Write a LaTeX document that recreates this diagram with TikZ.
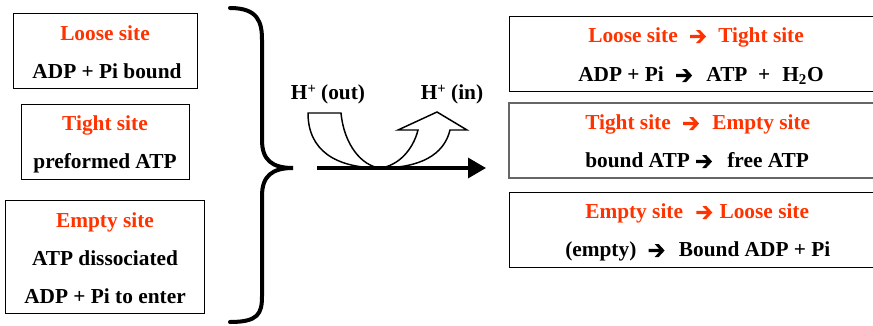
\documentclass[tikz,border=0pt]{standalone}
\usepackage{fontspec}
\setmainfont{Liberation Serif}
\usetikzlibrary{arrows.meta,calc}
\definecolor{sitered}{RGB}{255,51,0}
\newcommand\hplus{H\raisebox{4.5pt}{\fontsize{11}{11}\selectfont +}}
\begin{document}
\begin{tikzpicture}[x=0.75pt,y=-0.75pt,
  box/.style={draw=black,line width=0.75pt,fill=white,inner sep=0pt},
  txt/.style={anchor=base,inner sep=0pt,font=\fontsize{16}{19}\selectfont\bfseries},
  red/.style={txt,text=sitered},
  seg/.style={txt,anchor=base west},
  redseg/.style={red,anchor=base west},
  rarrow/.pic={\fill (0,-1.7) -- (10.5,-1.7) -- (6,-6.5) -- (10,-6.5) -- (16,0) -- (10,6.5) -- (6,6.5) -- (10.5,1.7) -- (0,1.7) -- cycle;}]
\useasboundingbox (0,0) rectangle (873,325);
\clip (0,0) rectangle (873,325);
% left boxes
\node[box,minimum width=138pt,minimum height=56.25pt] (b1) at (105,50.5) {};
\node[box,minimum width=126pt,minimum height=56.25pt] (b2) at (105,141.5) {};
\node[box,minimum width=149.25pt,minimum height=84.75pt] (b3) at (105.3,256.5) {};
\node[red] (l1) at (105,40) {Loose site};
\node[txt] (l2) at (107,78) {ADP + Pi bound};
\node[red] (l3) at (105,130) {Tight site};
\node[txt] (l4) at (105,168) {preformed ATP};
\node[red] (l5) at (105,227) {Empty site};
\node[txt] (l6) at (105,265) {ATP dissociated};
\node[txt] (l7) at (105,303) {ADP + Pi to enter};
% brace
\draw[line width=3pt,line cap=round] (230,8) .. controls (258,8) and (262,22) .. (262,40) -- (262,140)
  .. controls (262,160) and (272,168) .. (293,168)
  .. controls (272,168) and (262,176) .. (262,196) -- (262,296)
  .. controls (262,314) and (258,322) .. (230,322);
% right boxes
\node[box,minimum width=282pt,minimum height=56.25pt] (r1) at (697,53.5) {};
\node[box,draw=black!60,line width=1.3pt,minimum width=282pt,minimum height=56.25pt] (r2) at (697,140.5) {};
\node[box,minimum width=282pt,minimum height=56.25pt] (r3) at (697,229.5) {};
% line 1
\node[redseg] (s1a) at (588,42) {Loose site};
\pic[color=sitered] at ($(s1a.base east)+(12,-5.5)$) {rarrow};
\node[redseg] (s1b) at ($(s1a.base east)+(40,0)$) {Tight site};
% line 2
\node[seg] (s2a) at (578,81) {ADP + Pi};
\pic[color=black] at ($(s2a.base east)+(12,-5.5)$) {rarrow};
\node[seg] (s2b) at ($(s2a.base east)+(42,0)$) {ATP\hspace{8pt}+\hspace{9pt}H\textsubscript{2}O};
% line 3
\node[redseg] (s3a) at (585,129) {Tight site};
\pic[color=sitered] at ($(s3a.base east)+(12,-5.5)$) {rarrow};
\node[redseg] (s3b) at ($(s3a.base east)+(41,0)$) {Empty site};
% line 4
\node[seg] (s4a) at (585,167) {bound ATP};
\pic[color=black] at ($(s4a.base east)+(6,-5.5)$) {rarrow};
\node[seg] (s4b) at ($(s4a.base east)+(37,0)$) {free ATP};
% line 5
\node[redseg] (s5a) at (585,218) {Empty site};
\pic[color=sitered] at ($(s5a.base east)+(13,-5.5)$) {rarrow};
\node[redseg] (s5b) at ($(s5a.base east)+(36,0)$) {Loose site};
% line 6
\node[seg] (s6a) at (565,256) {(empty)};
\pic[color=black] at ($(s6a.base east)+(12,-5.5)$) {rarrow};
\node[seg] (s6b) at ($(s6a.base east)+(42,0)$) {Bound ADP + Pi};
% H+ labels
\node[txt] (hout) at (328,99) {\hplus\ (out)};
\node[txt] (hin) at (452,99) {\hplus\ (in)};
% curved arrow shape
\coordinate (ls) at (317,168);
\coordinate (le) at (486,168);
\draw[line width=1.1pt,fill=white,line join=miter]
  (308,113) -- (341,113)
  .. controls (344,145) and (362,166) .. (380,168)
  .. controls (398,166) and (413,150) .. (418,130)
  -- (398,130) -- (437,112) -- (467,130) -- (450,130)
  .. controls (444,155) and (420,168) .. (380,168)
  .. controls (335,168) and (308,150) .. (308,113) -- cycle;
\draw[line width=2.4pt,-{Triangle[length=13.5pt,width=15pt]}] (ls) -- (le);
\end{tikzpicture}
\end{document}
